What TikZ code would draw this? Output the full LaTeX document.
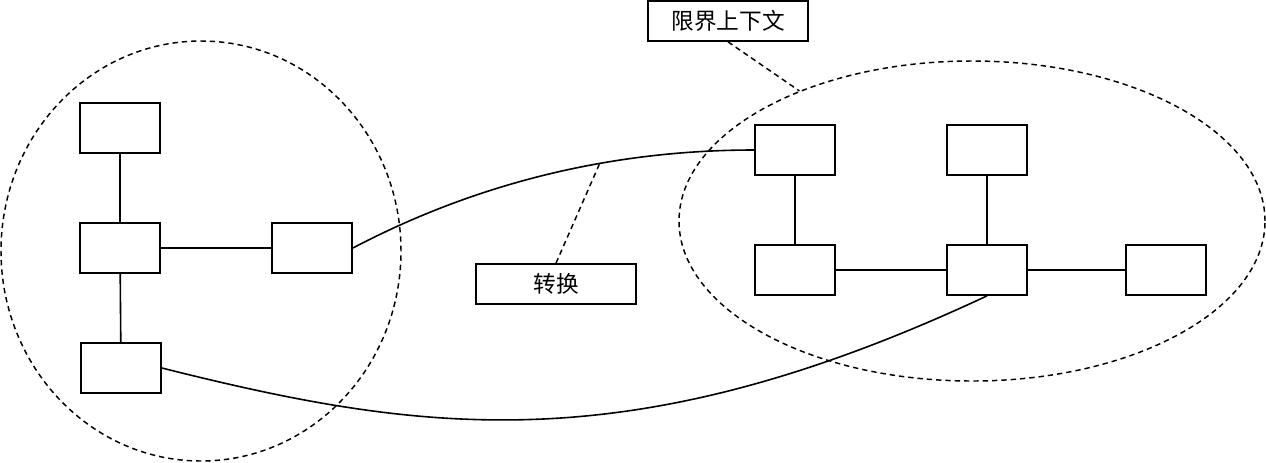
\documentclass[tikz,border=0pt]{standalone}
\usepackage{fontspec}
\newfontfamily\cjk{Noto Sans CJK SC}
\usetikzlibrary{shapes.geometric}
\begin{document}
\begin{tikzpicture}[x=0.75pt,y=-0.75pt,
  box/.style={draw,line width=1.3pt,minimum width=60pt,minimum height=37.5pt,inner sep=0pt},
  lbl/.style={draw,line width=1.3pt,minimum width=120pt,minimum height=30pt,inner sep=0pt,font=\cjk\fontsize{17pt}{20pt}\selectfont},
  ctx/.style={draw,ellipse,line width=1.1pt,dash pattern=on 4pt off 3pt,inner sep=0pt},
  link/.style={line width=1.2pt},
  dlink/.style={line width=1.1pt,dash pattern=on 4pt off 3pt}]
\useasboundingbox (0,0) rectangle (1266,462);
% contexts
\node[ctx,minimum width=300pt,minimum height=315pt] (lE) at (201,251) {};
\node[ctx,minimum width=439.5pt,minimum height=240pt] (rE) at (972,221) {};
% left boxes
\node[box] (L1) at (120,128) {};
\node[box] (L2) at (120,248) {};
\node[box] (L3) at (312,248) {};
\node[box] (L4) at (121,368) {};
% right boxes
\node[box] (R1) at (795,150) {};
\node[box] (R2) at (987,150) {};
\node[box] (R3) at (795,270) {};
\node[box] (R4) at (987,270) {};
\node[box] (R5) at (1166,270) {};
% labels
\node[lbl] (bc) at (728,21) {限界上下文};
\node[lbl] (tr) at (556,284) {转换};
% links
\draw[link] (L1) -- (L2);
\draw[link] (L2) -- (L4);
\draw[link] (L2) -- (L3);
\draw[link] (R1) -- (R3);
\draw[link] (R3) -- (R4);
\draw[link] (R2) -- (R4);
\draw[link] (R4) -- (R5);
\draw[link] (L3.east) .. controls (475,184) and (609,150) .. (R1.west) coordinate[pos=0.635] (c1);
\draw[link] (L4.east) .. controls (425.7,434.2) and (631.3,462.2) .. (R4.south);
\draw[dlink] (bc.south) -- (rE.143);
\draw[dlink] (tr.north) -- (c1);
\end{tikzpicture}
\end{document}
